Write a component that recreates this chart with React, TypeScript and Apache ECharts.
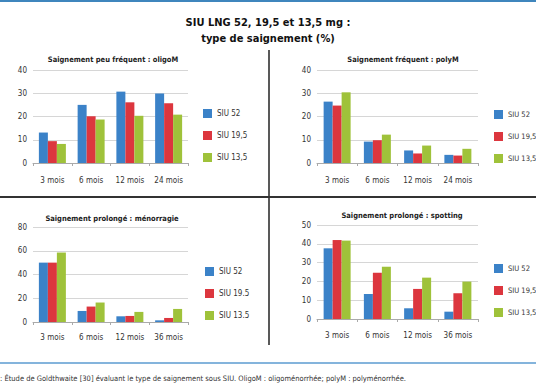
import React, { useEffect, useRef } from "react";
import * as echarts from "echarts";

const mainTitle1 = "SIU LNG 52, 19,5 et 13,5 mg :";
const mainTitle2 = "type de saignement (%)";
const caption = ": Étude de Goldthwaite [30] évaluant le type de saignement sous SIU. OligoM : oligoménorrhée; polyM : polyménorrhée.";

const panelTitles = [
  "Saignement peu fréquent : oligoM",
  "Saignement fréquent : polyM",
  "Saignement prolongé : ménorragie",
  "Saignement prolongé : spotting",
];

const catsTop = ["3 mois", "6 mois", "12 mois", "24 mois"];
const catsBottom = ["3 mois", "6 mois", "12 mois", "36 mois"];

const namesComma = ["SIU 52", "SIU 19,5", "SIU 13,5"];
const namesDot = ["SIU 52", "SIU 19.5", "SIU 13.5"];

// oligoM
const oligo52 = [13.1, 25, 30.7, 29.9];
const oligo195 = [9.4, 20.1, 26.1, 25.7];
const oligo135 = [8.2, 18.7, 20.3, 20.8];
// polyM
const poly52 = [26.4, 9.2, 5.4, 3.5];
const poly195 = [24.7, 9.8, 4.1, 3.2];
const poly135 = [30.4, 12.2, 7.5, 6.1];
// ménorragie
const meno52 = [50, 9.3, 4.8, 1.4];
const meno195 = [50, 13, 5.1, 3.4];
const meno135 = [58.5, 16.4, 8.5, 11];
// spotting
const spot52 = [37.6, 13.3, 5.7, 3.9];
const spot195 = [42, 24.6, 16, 13.7];
const spot135 = [41.7, 27.8, 22, 19.9];

const yMax = [40, 40, 80, 50];
const yInterval = [10, 10, 20, 10];

const colors = ["#3b82c8", "#dc363e", "#9fc23a"];
const FONT = "'DejaVu Sans Condensed', Roboto, sans-serif";

export default function App() {
  const ref = useRef<HTMLDivElement>(null);
  useEffect(() => {
    document.body.style.margin = "0";
    const chart = echarts.init(ref.current!, undefined, { renderer: "svg" });

    const grids = [
      { left: 33, top: 70, width: 155, height: 93 },
      { left: 317, top: 70, width: 161, height: 93 },
      { left: 33, top: 227, width: 155, height: 95 },
      { left: 317, top: 225, width: 161, height: 94 },
    ];
    const cats = [catsTop, catsTop, catsBottom, catsBottom];
    const data = [
      [oligo52, oligo195, oligo135],
      [poly52, poly195, poly135],
      [meno52, meno195, meno135],
      [spot52, spot195, spot135],
    ];
    const names = [namesComma, namesComma, namesDot, namesComma];
    const legendPos = [
      { left: 203, top: 109 },
      { left: 494, top: 110 },
      { left: 205, top: 267 },
      { left: 494, top: 264 },
    ];
    const titlePos = [
      { x: 113, y: 59 },
      { x: 403, y: 59 },
      { x: 112, y: 218 },
      { x: 402, y: 215 },
    ];
    const labelMargin = [13, 13, 11, 12];

    const series: any[] = [];
    data.forEach((grp, gi) => {
      grp.forEach((vals, si) => {
        series.push({
          type: "bar",
          name: names[gi][si],
          xAxisIndex: gi,
          yAxisIndex: gi,
          data: vals,
          barWidth: 9,
          barGap: "0%",
          itemStyle: { color: colors[si] },
        });
      });
    });

    const graphic: any[] = [
      { type: "line", shape: { x1: 0, y1: 1, x2: 536, y2: 1 }, style: { stroke: "#3f86bd", lineWidth: 2 } },
      { type: "line", shape: { x1: 269, y1: 50, x2: 269, y2: 345 }, style: { stroke: "#222", lineWidth: 1.5 } },
      { type: "line", shape: { x1: 0, y1: 197, x2: 536, y2: 197 }, style: { stroke: "#333", lineWidth: 2 } },
      { type: "line", shape: { x1: 0, y1: 363, x2: 536, y2: 363 }, style: { stroke: "#5b9bd0", lineWidth: 1.5 } },
      {
        type: "text", x: 268, y: 22,
        style: { text: mainTitle1, textAlign: "center", textVerticalAlign: "middle", font: `bold 11px ${FONT}`, fill: "#111" },
      },
      {
        type: "text", x: 268, y: 38,
        style: { text: mainTitle2, textAlign: "center", textVerticalAlign: "middle", font: `bold 11px ${FONT}`, fill: "#111" },
      },
      {
        type: "text", x: 0, y: 378,
        style: { text: caption, textAlign: "left", textVerticalAlign: "middle", font: `7.5px ${FONT}`, fill: "#333" },
      },
      ...panelTitles.map((t, i) => ({
        type: "text", x: titlePos[i].x, y: titlePos[i].y,
        style: { text: t, textAlign: "center", textVerticalAlign: "middle", font: `bold 7.5px ${FONT}`, fill: "#222" },
      })),
    ];

    chart.setOption({
      animation: false,
      backgroundColor: "#ffffff",
      textStyle: { fontFamily: FONT },
      grid: grids,
      xAxis: grids.map((_, i) => ({
        type: "category",
        gridIndex: i,
        data: cats[i],
        axisLine: { lineStyle: { color: "#aaa" } },
        axisTick: { show: true, length: 3, lineStyle: { color: "#aaa" } },
        axisLabel: { color: "#333", fontSize: 8, margin: labelMargin[i], fontFamily: FONT, interval: 0 },
      })),
      yAxis: grids.map((_, i) => ({
        type: "value",
        gridIndex: i,
        min: 0,
        max: yMax[i],
        interval: yInterval[i],
        axisLine: { show: false },
        axisTick: { show: false },
        splitLine: { lineStyle: { color: "#d6d6d6" } },
        axisLabel: { color: "#333", fontSize: 8, margin: 6, fontFamily: FONT },
      })),
      legend: legendPos.map((p, i) => ({
        orient: "vertical",
        left: p.left,
        top: p.top,
        data: names[i],
        itemWidth: 9,
        itemHeight: 9,
        itemGap: 13,
        textStyle: { fontSize: i % 2 === 1 ? 7.5 : 8, color: "#333", fontFamily: FONT },
        icon: "rect",
        padding: 0,
        selectedMode: false,
      })),
      series,
      graphic,
    });
    return () => chart.dispose();
  }, []);
  return <div ref={ref} style={{ position: "fixed", left: 0, top: 0, width: 536, height: 386 }} />;
}
